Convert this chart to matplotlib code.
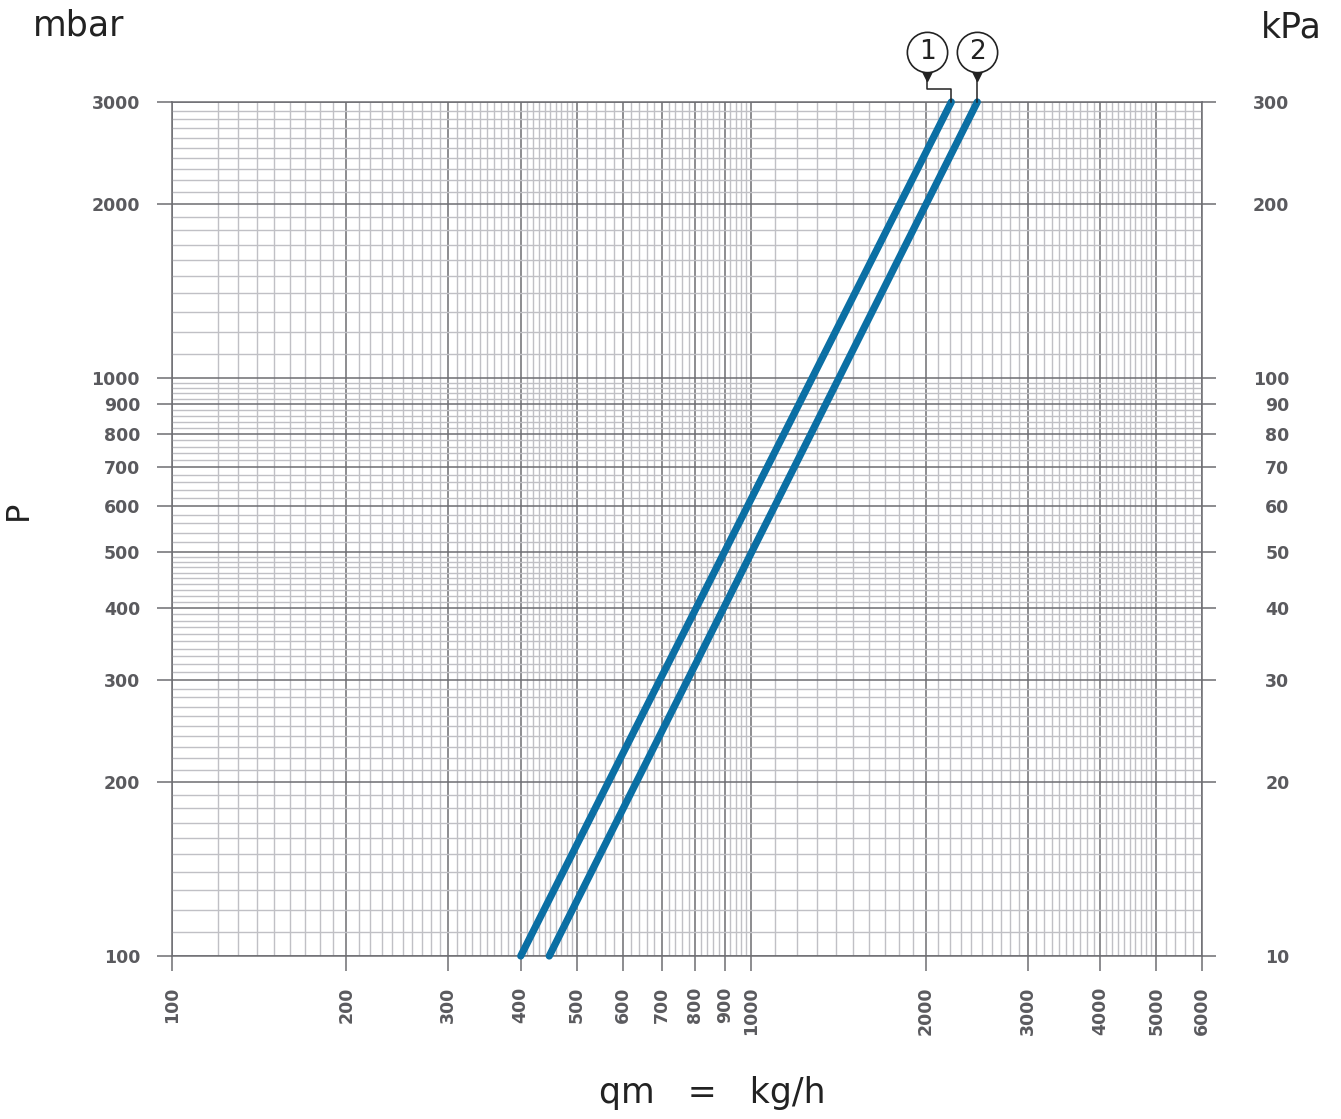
import numpy as np
import matplotlib
matplotlib.use("Agg")
import matplotlib.pyplot as plt
import matplotlib.transforms as mtransforms

# --- data --------------------------------------------------------------------
curve_ids = ["1", "2"]
q_start = [400, 448]        # kg/h at P = 100 mbar
q_end = [2215, 2456]        # kg/h at P = 3000 mbar
p_start = [100, 100]
p_end = [3000, 3000]

x_major = [100, 200, 300, 400, 500, 600, 700, 800, 900, 1000,
           2000, 3000, 4000, 5000, 6000]
y_major = [100, 200, 300, 400, 500, 600, 700, 800, 900, 1000, 2000, 3000]
kpa_ticks = [10, 20, 30, 40, 50, 60, 70, 80, 90, 100, 200, 300]

# log-paper minor rulings (no 110 line on the x axis in the original)
x_minor = np.concatenate([np.arange(120, 200, 10), np.arange(210, 300, 10),
                          np.arange(310, 500, 10), np.arange(520, 1000, 20),
                          np.arange(1100, 5000, 100), np.arange(5200, 6000, 200)])
y_minor = np.concatenate([np.arange(110, 500, 10), np.arange(520, 1000, 20),
                          np.arange(1100, 3000, 100)])
x_minor = [v for v in x_minor if v not in x_major]
y_minor = [v for v in y_minor if v not in y_major]

DARK = '#6d6d72'
LIGHT = '#c0c0c5'
TXT = '#5a5a5e'
BLUE = '#0b6fa4'

fig = plt.figure(figsize=(13.41, 11.19), dpi=100)
ax = fig.add_axes([0.12826, 0.14567, 0.76808, 0.76318])
ax.set_xscale('log'); ax.set_yscale('log')
ax.set_xlim(100, 6000); ax.set_ylim(100, 3000)

ax.set_xticks(x_major)
ax.set_xticklabels([str(v) for v in x_major], rotation=90)
ax.set_yticks(y_major)
ax.set_yticklabels([str(v) for v in y_major])
ax.set_xticks(x_minor, minor=True)
ax.set_yticks(y_minor, minor=True)
ax.xaxis.set_minor_formatter(matplotlib.ticker.NullFormatter())
ax.yaxis.set_minor_formatter(matplotlib.ticker.NullFormatter())

ax.grid(which='minor', color=LIGHT, lw=1.0, zorder=0)
ax.grid(which='major', color=DARK, lw=1.1, zorder=1)
ax.set_axisbelow(True)
for s in ax.spines.values():
    s.set_color(DARK); s.set_linewidth(1.1)

ax.tick_params(which='minor', length=0)
ax.tick_params(which='major', direction='out', length=11, width=1.1,
               color=DARK, labelcolor=TXT, labelsize=12.5)
ax.tick_params(axis='y', pad=12)
ax.tick_params(axis='x', pad=11)
for lbl in ax.get_xticklabels() + ax.get_yticklabels():
    lbl.set_fontweight('bold')

# right-hand kPa scale
ax2 = ax.twinx()
ax2.set_yscale('log')
ax2.set_ylim(10, 300)
ax2.set_yticks(kpa_ticks)
ax2.set_yticklabels([str(v) for v in kpa_ticks])
ax2.yaxis.set_minor_locator(matplotlib.ticker.NullLocator())
ax2.tick_params(axis='y', direction='out', length=10, width=1.1, color=DARK,
                labelcolor=TXT, labelsize=12.5, pad=53)
for lbl in ax2.get_yticklabels():
    lbl.set_horizontalalignment('right'); lbl.set_fontweight('bold')
for s in ax2.spines.values():
    s.set_visible(False)

# curves
for i in range(len(curve_ids)):
    ax.plot([q_start[i], q_end[i]], [p_start[i], p_end[i]], color=BLUE,
            lw=5.2, solid_capstyle='round', clip_on=False, zorder=5)

# numbered callouts above the curve ends (offsets in inches from the end)
label_dx = [-0.24, 0.0]
for i, cid in enumerate(curve_ids):
    tr = fig.dpi_scale_trans + mtransforms.ScaledTranslation(
        q_end[i], p_end[i], ax.transData)
    dx = label_dx[i]
    if dx != 0:
        ax.plot([dx, dx, 0, 0], [0.22, 0.13, 0.13, 0], color='#222222',
                lw=1.1, transform=tr, clip_on=False, zorder=6)
    else:
        ax.plot([0, 0], [0.22, 0], color='#222222', lw=1.1,
                transform=tr, clip_on=False, zorder=6)
    ax.plot([dx], [0.29], marker='v', ms=11, color='#222222',
            transform=tr, clip_on=False, zorder=6)
    ax.plot([dx], [0.50], marker='o', ms=29, mfc='white', mec='#222222',
            mew=1.2, transform=tr, clip_on=False, zorder=7)
    ax.text(dx, 0.50, cid, transform=tr, ha='center', va='center',
            fontsize=19, color='#222222', zorder=8)

# unit labels
fig.text(33 / 1341, 1 - 25 / 1119, 'mbar', fontsize=25, color='#222222',
         ha='left', va='center')
fig.text(1322 / 1341, 1 - 28 / 1119, 'kPa', fontsize=25, color='#222222',
         ha='right', va='center')
fig.text(18 / 1341, 1 - 510 / 1119, 'P', fontsize=23, color='#222222',
         rotation=90, ha='center', va='center')
fig.text(712 / 1341, 1 - 1093 / 1119, 'qm   =   kg/h', fontsize=25,
         color='#222222', ha='center', va='center')

fig.savefig('out.png', dpi=100)
